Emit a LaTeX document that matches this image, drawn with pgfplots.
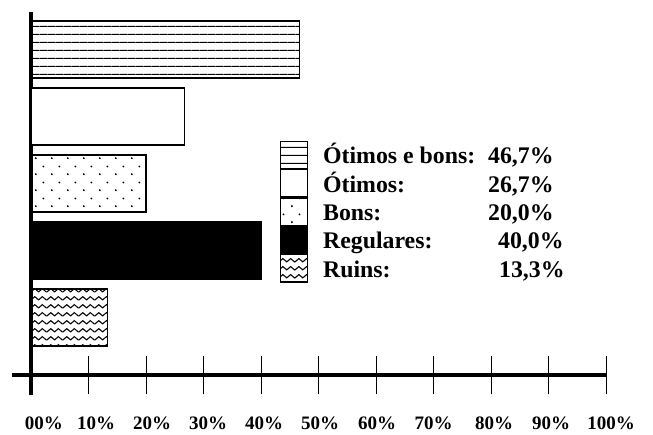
\documentclass[border=0pt]{standalone}
\usepackage{pgfplots}
\pgfplotsset{compat=1.18}
\usetikzlibrary{patterns,patterns.meta}
\usepackage{fontspec}
\setmainfont{Liberation Serif}

\tikzdeclarepattern{
  name=hlinesp,
  type=uncolored,
  bottom left={(0pt,0pt)},
  top right={(8pt,8.1pt)},
  tile size={(8pt,8.1pt)},
  code={\draw[line width=1.2pt] (-0.5pt,4.05pt) -- (8.5pt,4.05pt);}
}
\tikzdeclarepattern{
  name=dotsp,
  type=uncolored,
  bottom left={(0pt,0pt)},
  top right={(16pt,16pt)},
  tile size={(16pt,16pt)},
  code={\fill (4pt,4pt) circle (1.1pt); \fill (12pt,12pt) circle (1.1pt);}
}
\tikzdeclarepattern{
  name=wavep,
  type=uncolored,
  bottom left={(0pt,0pt)},
  top right={(15.5pt,7.7pt)},
  tile size={(15.5pt,7.7pt)},
  code={\draw[line width=1.1pt] (-0.5pt,2.5pt) -- (0pt,2.2pt) -- (3.875pt,5.5pt) -- (7.75pt,2.2pt) -- (11.625pt,5.5pt) -- (15.5pt,2.2pt) -- (16pt,2.6pt);}
}
\newcommand{\lent}[1]{\raisebox{-3.5pt}{\smash{#1}}}
\newcommand{\sh}[2]{\hspace*{#1}#2\hspace*{-#1}}

\begin{document}
\begin{tikzpicture}
\begin{axis}[
  scale only axis,
  width=594pt, height=383pt,
  xmin=-3.3, xmax=100,
  ymin=-20, ymax=363,
  axis lines=middle,
  axis line style={-, line width=3.5pt, black},
  hide obscured x ticks=false,
  xtick={0,10,...,100},
  xticklabels={\sh{13pt}{00\%},\sh{7.5pt}{10\%},\sh{6pt}{20\%},\sh{4.5pt}{30\%},\sh{3pt}{40\%},\sh{1.5pt}{50\%},\sh{1pt}{60\%},70\%,\sh{3pt}{80\%},\sh{2.5pt}{90\%},\sh{5pt}{100\%}},
  ytick=\empty,
  major tick length=38pt,
  tick align=center,
  x tick style={line width=1pt, black},
  xticklabel style={font=\bfseries\fontsize{19}{20}\selectfont, anchor=base, yshift=-35.4pt},
  clip=false,
  xbar, bar width=57pt, bar shift=0pt,
  legend style={at={(axis cs:43.3,234)}, anchor=north west, draw=none, fill=none,
    inner sep=0pt, outer sep=0pt, row sep=0pt, column sep=15pt,
    nodes={inner sep=0pt, outer sep=0pt},
    font=\bfseries\fontsize{23.8}{28}\selectfont},
  legend cell align=left,
]
\addplot[xbar, draw=black, line width=1.2pt, pattern=hlinesp,
  legend image code/.code={\draw[line width=1.2pt, pattern=hlinesp] (0pt,-7.55pt) rectangle (27pt,19.55pt);}]
  coordinates {(46.7,325.5)};
\addlegendentry{\lent{\makebox[165pt][l]{Ótimos e bons:}46,7\%}}
\addplot[xbar, draw=black, line width=1.2pt, fill=white,
  legend image code/.code={\draw[line width=1.2pt, fill=white] (0pt,-7.55pt) rectangle (27pt,19.55pt);}]
  coordinates {(26.7,258.5)};
\addlegendentry{\lent{\makebox[165pt][l]{Ótimos:}26,7\%}}
\addplot[xbar, draw=black, line width=1.2pt, pattern=dotsp,
  legend image code/.code={\draw[line width=1.2pt, pattern=dotsp] (0pt,-7.55pt) rectangle (27pt,19.55pt);}]
  coordinates {(20.0,191.5)};
\addlegendentry{\lent{\makebox[165pt][l]{Bons:}20,0\%}}
\addplot[xbar, draw=black, line width=1.2pt, fill=black,
  legend image code/.code={\draw[line width=1.2pt, fill=black] (0pt,-7.55pt) rectangle (27pt,19.55pt);}]
  coordinates {(40.0,124.5)};
\addlegendentry{\lent{\makebox[175pt][l]{Regulares:}40,0\%}}
\addplot[xbar, draw=black, line width=1.2pt, pattern=wavep,
  legend image code/.code={\draw[line width=1.2pt, pattern=wavep] (0pt,-7.55pt) rectangle (27pt,19.55pt);}]
  coordinates {(13.3,57.5)};
\addlegendentry{\lent{\makebox[176pt][l]{Ruins:}13,3\%}}
\path (axis cs:-5.391,375) rectangle (axis cs:108.17,-59);
\end{axis}
\end{tikzpicture}
\end{document}
